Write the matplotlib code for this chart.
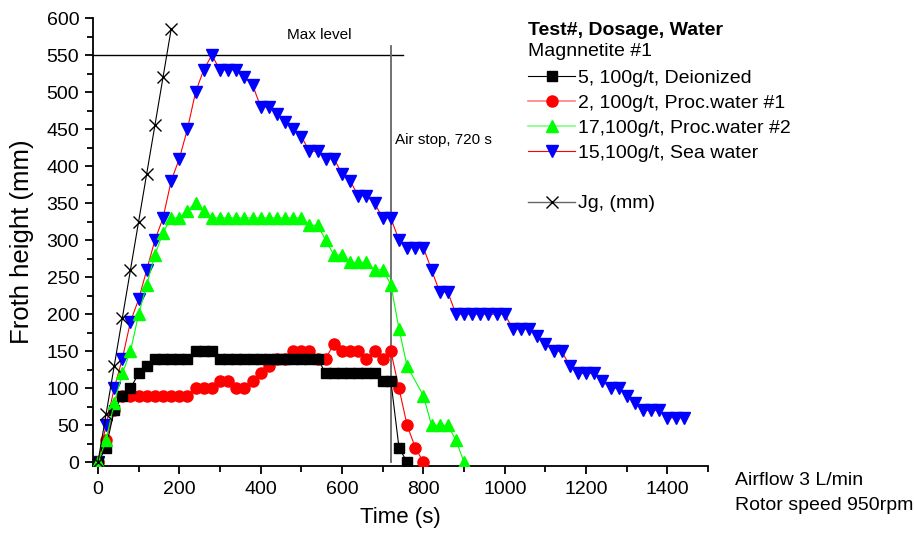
import matplotlib
matplotlib.use("Agg")
import matplotlib.pyplot as plt
from matplotlib.lines import Line2D
from matplotlib.ticker import MultipleLocator

plt.rcParams['font.family'] = ['Liberation Sans', 'DejaVu Sans']

# Test 5, deionized water
t_deion = [0, 20, 40, 60, 80, 100, 120, 140, 160, 180, 200, 220, 240, 260, 280,
           300, 320, 340, 360, 380, 400, 420, 440, 460, 480, 500, 520, 540,
           560, 580, 600, 620, 640, 660, 680, 700, 720, 740, 760]
h_deion = [0, 20, 70, 90, 100, 120, 130, 140, 140, 140, 140, 140, 150, 150, 150,
           140, 140, 140, 140, 140, 140, 140, 140, 140, 140, 140, 140, 140,
           120, 120, 120, 120, 120, 120, 120, 110, 110, 20, 0]

# Test 2, process water #1
t_proc1 = [0, 20, 40, 60, 80, 100, 120, 140, 160, 180, 200, 220, 240, 260, 280,
           300, 320, 340, 360, 380, 400, 420, 440, 460, 480, 500, 520, 540,
           560, 580, 600, 620, 640, 660, 680, 700, 720, 740, 760, 780, 800]
h_proc1 = [0, 30, 70, 90, 90, 90, 90, 90, 90, 90, 90, 90, 100, 100, 100,
           110, 110, 100, 100, 110, 120, 130, 140, 140, 150, 150, 150, 140,
           140, 160, 150, 150, 150, 140, 150, 140, 150, 100, 50, 20, 0]

# Test 17, process water #2
t_proc2 = [0, 20, 40, 60, 80, 100, 120, 140, 160, 180, 200, 220, 240, 260, 280,
           300, 320, 340, 360, 380, 400, 420, 440, 460, 480, 500, 520, 540,
           560, 580, 600, 620, 640, 660, 680, 700, 720, 740, 760, 800, 820,
           840, 860, 880, 900]
h_proc2 = [0, 30, 80, 120, 150, 200, 240, 280, 310, 330, 330, 340, 350, 340, 330,
           330, 330, 330, 330, 330, 330, 330, 330, 330, 330, 330, 320, 320,
           300, 280, 280, 270, 270, 270, 260, 260, 240, 180, 130, 90, 50,
           50, 50, 30, 0]

# Test 15, sea water
t_sea = [0, 20, 40, 60, 80, 100, 120, 140, 160, 180, 200, 220, 240, 260, 280,
         300, 320, 340, 360, 380, 400, 420, 440, 460, 480, 500, 520, 540,
         560, 580, 600, 620, 640, 660, 680, 700, 720, 740, 760, 780, 800,
         820, 840, 860, 880, 900, 920, 940, 960, 980, 1000, 1020, 1040, 1060,
         1080, 1100, 1120, 1140, 1160, 1180, 1200, 1220, 1240, 1260, 1280,
         1300, 1320, 1340, 1360, 1380, 1400, 1420, 1440]
h_sea = [0, 50, 100, 140, 190, 220, 260, 300, 330, 380, 410, 450, 500, 530, 550,
         530, 530, 530, 520, 510, 480, 480, 470, 460, 450, 440, 420, 420,
         410, 410, 390, 380, 360, 360, 350, 330, 330, 300, 290, 290, 290,
         260, 230, 230, 200, 200, 200, 200, 200, 200, 200, 180, 180, 180,
         170, 160, 150, 150, 130, 120, 120, 120, 110, 100, 100,
         90, 80, 70, 70, 70, 60, 60, 60]

# Jg
t_jg = [0, 20, 40, 60, 80, 100, 120, 140, 160, 180]
h_jg = [0, 65, 130, 195, 260, 325, 390, 455, 520, 585]

max_level = 550
air_stop = 720

fig = plt.figure(figsize=(9.14, 5.4), dpi=100)
ax = fig.add_axes([0.1018, 0.137, 0.673, 0.8296])

ax.plot(t_sea, h_sea, color='red', lw=0.8, marker='v', ms=8.5, mfc='blue',
        mec='blue', zorder=2)
ax.plot(t_proc1, h_proc1, color='red', lw=0.8, marker='o', ms=8, mfc='red',
        mec='red', zorder=3)
ax.plot(t_deion, h_deion, color='black', lw=0.8, marker='s', ms=7, mfc='black',
        mec='black', zorder=4)
ax.plot(t_proc2, h_proc2, color='#00ff00', lw=0.8, marker='^', ms=8.5,
        mfc='#00ff00', mec='#00ff00', zorder=5)
ax.plot(t_jg, h_jg, color='black', lw=0.8, marker='x', ms=8, mew=1, zorder=6)

ax.plot([-12, 750], [max_level, max_level], color='black', lw=1, zorder=1)
ax.plot([air_stop, air_stop], [0, 562], color='#666666', lw=1.3, zorder=1)
ax.text(464, 577, 'Max level', fontsize=11, va='center', ha='left')
ax.text(730, 435, 'Air stop, 720 s', fontsize=11, va='center', ha='left')

ax.set_xlim(-12, 1500)
ax.set_ylim(-5, 600)
ax.xaxis.set_major_locator(MultipleLocator(200))
ax.xaxis.set_minor_locator(MultipleLocator(100))
ax.yaxis.set_major_locator(MultipleLocator(50))
ax.yaxis.set_minor_locator(MultipleLocator(25))
for s in ['top', 'right']:
    ax.spines[s].set_visible(False)
for s in ['left', 'bottom']:
    ax.spines[s].set_linewidth(1.3)
ax.tick_params(which='major', direction='out', length=6, width=1.3, labelsize=14)
ax.tick_params(axis='x', which='major', pad=5)
ax.tick_params(axis='y', which='major', pad=4)
ax.tick_params(which='minor', direction='out', length=4, width=1.3)
ax.set_xlabel('Time (s)', fontsize=16, labelpad=6)
ax.set_ylabel('Froth height (mm)', fontsize=18.5, labelpad=9)

handles = [
    Line2D([], [], color='black', lw=0.8, marker='s', ms=7),
    Line2D([], [], color='#ff8080', lw=1.2, marker='o', ms=8, mfc='red', mec='red'),
    Line2D([], [], color='#80ff80', lw=1.2, marker='^', ms=8.5, mfc='#00ff00', mec='#00ff00'),
    Line2D([], [], color='red', lw=0.8, marker='v', ms=8.5, mfc='blue', mec='blue'),
    Line2D([], [], linestyle='none'),
    Line2D([], [], color='#666666', lw=1, marker='x', ms=8, mec='black', mew=1),
]
labels = ['5, 100g/t, Deionized', '2, 100g/t, Proc.water #1',
          '17,100g/t, Proc.water #2', '15,100g/t, Sea water', ' ', 'Jg, (mm)']
fig.legend(handles, labels, loc='upper left', bbox_to_anchor=(0.5777, 0.872),
           frameon=False, fontsize=14, numpoints=1, handlelength=2.43,
           handletextpad=0.15, labelspacing=0.386, borderpad=0, borderaxespad=0)
fig.text(0.5777, 0.944, 'Test#, Dosage, Water', fontsize=14, fontweight='bold',
         va='center', ha='left')
fig.text(0.5777, 0.904, 'Magnnetite #1', fontsize=14, va='center', ha='left')

fig.text(0.804, 0.111, 'Airflow 3 L/min', fontsize=14, va='center', ha='left')
fig.text(0.804, 0.063, 'Rotor speed 950rpm', fontsize=14, va='center', ha='left')

fig.savefig('out.png', dpi=100)
